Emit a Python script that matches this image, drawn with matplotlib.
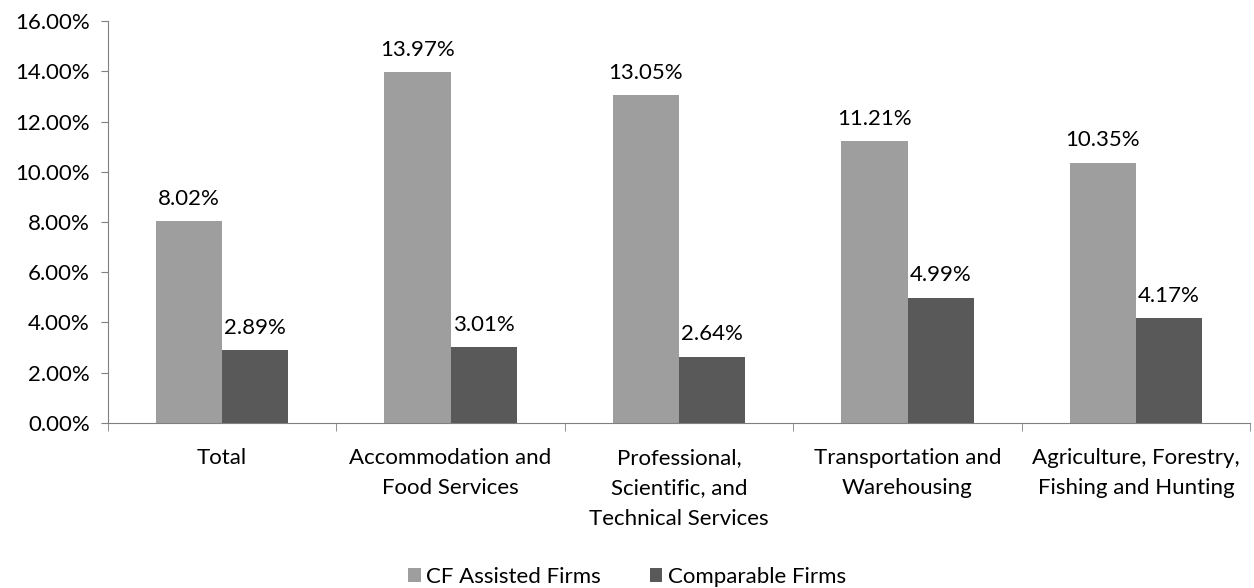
import numpy as np
import matplotlib.pyplot as plt

plt.rcParams['font.family'] = ['Lato', 'DejaVu Sans']

categories = ['Total', 'Accommodation and\nFood Services', 'Professional,\nScientific, and\nTechnical Services',
              'Transportation and\nWarehousing', 'Agriculture, Forestry,\nFishing and Hunting']
cf_assisted = [8.02, 13.97, 13.05, 11.21, 10.35]
comparable = [2.89, 3.01, 2.64, 4.99, 4.17]

fig = plt.figure(figsize=(12.54, 5.88), dpi=100)
ax = fig.add_axes([0.086, 0.281, 0.911, 0.683])

x = np.arange(len(categories))
w = 0.29
b1 = ax.bar(x - w / 2, cf_assisted, w, color='#9e9e9e', label='CF Assisted Firms')
b2 = ax.bar(x + w / 2, comparable, w, color='#595959', label='Comparable Firms')

for bars, vals in ((b1, cf_assisted), (b2, comparable)):
    for r, v in zip(bars, vals):
        ax.text(r.get_x() + r.get_width() / 2, v + 0.5, f'{v:.2f}%', ha='center', va='bottom', fontsize=16)

ax.set_xlim(-0.5, len(categories) - 0.5)
ax.set_ylim(0, 16)
ax.set_yticks(np.arange(0, 17, 2))
ax.set_yticklabels([f'{t:.2f}%' for t in np.arange(0, 17, 2)], fontsize=16)
ax.set_xticks(x)
ax.set_xticklabels(categories, fontsize=16, va='top', linespacing=1.65)
ax.tick_params(axis='x', length=0, pad=18)
ax.set_xticks(np.arange(-0.5, len(categories), 1), minor=True)
ax.tick_params(axis='x', which='minor', length=6, color='#808080')
ax.tick_params(axis='y', length=5, color='#808080', pad=8)
for s in ['top', 'right']:
    ax.spines[s].set_visible(False)
ax.spines['left'].set_color('#808080')
ax.spines['bottom'].set_color('#808080')

fig.legend(handles=[b1, b2], loc='lower center', ncol=2, frameon=False, fontsize=16,
           bbox_to_anchor=(0.5, -0.032), handlelength=0.55, handleheight=0.55, columnspacing=2.2, handletextpad=0.25)

fig.savefig('out.png', dpi=100)
